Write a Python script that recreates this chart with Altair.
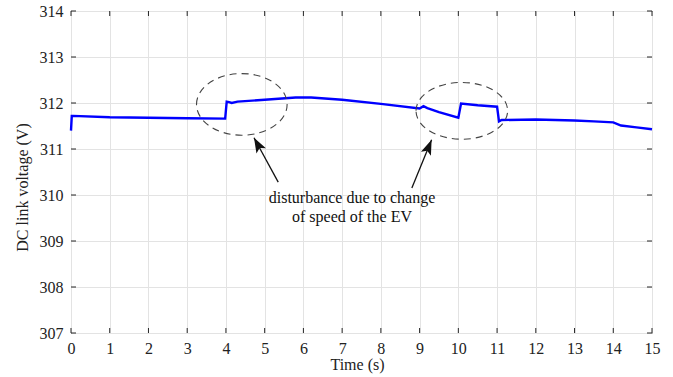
import math
import altair as alt
import pandas as pd

# DC link voltage trace (time in s, voltage in V)
time_s = [0.0, 0.02, 0.05, 1.0, 2.0, 3.0, 3.98, 4.02, 4.08, 4.15, 4.3, 5.0, 5.8,
          6.2, 7.0, 8.0, 9.0, 9.1, 9.2, 9.5, 10.0, 10.07, 10.5, 11.0, 11.05,
          11.12, 12.0, 12.5, 13.0, 13.5, 14.0, 14.2, 14.6, 15.0]
voltage = [311.40, 311.72, 311.72, 311.69, 311.68, 311.67, 311.66, 312.03,
           312.02, 312.00, 312.03, 312.07, 312.12, 312.12, 312.07, 311.98,
           311.88, 311.93, 311.89, 311.80, 311.68, 311.99, 311.95, 311.92,
           311.60, 311.63, 311.64, 311.63, 311.62, 311.60, 311.58, 311.51,
           311.47, 311.43]

x_ticks = list(range(0, 16))
y_ticks = list(range(307, 315))

# dashed ellipses around the two disturbances: centre (t, V), half-width in px, aspect
ell_t = [4.41, 10.09]
ell_v = [311.97, 311.83]
ell_rx = [45.3, 45.8]
ell_ratio = [0.68, 0.62]

# arrows from the note to the ellipses
arr_tail_t = [5.35, 8.80]
arr_tail_v = [310.28, 310.15]
arr_tip_t = [4.725, 9.31]
arr_tip_v = [311.245, 311.20]

note_lines = ["disturbance due to change", "of speed of the EV"]
note_t = [7.255, 7.255]
note_v = [309.83, 309.42]

W, H = 581, 322
X_DOM = [0, 15]
Y_DOM = [307, 314]
FONT = "Liberation Serif"

xs = alt.Scale(domain=X_DOM, nice=False, zero=False)
ys = alt.Scale(domain=Y_DOM, nice=False, zero=False)

# one shared axis definition per direction, reused by every layer
x_axis = alt.Axis(
    values=x_ticks, title="Time (s)", grid=True, gridColor="#e3e3e3",
    domain=False, ticks=False, tickSize=0, labelPadding=7,
    labelOverlap=False, labelFlush=False,
    labelFont=FONT, labelFontSize=16, labelColor="#222",
    titleFont=FONT, titleFontSize=16, titleFontWeight="normal", titleColor="#222",
    titleX=286, titleY=36, titleBaseline="alphabetic", titleAnchor="start",
    titleAlign="center")
y_axis = alt.Axis(
    values=y_ticks, title="DC link voltage (V)", grid=True, gridColor="#e3e3e3",
    domain=False, ticks=False, tickSize=0, labelPadding=8,
    labelOverlap=False, labelFlush=False,
    labelFont=FONT, labelFontSize=16, labelColor="#222",
    titleFont=FONT, titleFontSize=16, titleFontWeight="normal", titleColor="#222",
    titleX=-49, titleY=176, titleBaseline="middle", titleAngle=270,
    titleAlign="center")


def qx(field="t"):
    return alt.X(f"{field}:Q", scale=xs, axis=x_axis)


def qy(field="v"):
    return alt.Y(f"{field}:Q", scale=ys, axis=y_axis)


trace = pd.DataFrame({"t": time_s, "v": voltage})
line = alt.Chart(trace).mark_line(color="#0000ff", strokeWidth=2.4).encode(
    x=qx(), y=qy())

# inward ticks on all four sides
xt = pd.DataFrame({"t": x_ticks})
yt = pd.DataFrame({"v": y_ticks})
tick_col = "#262626"
bottom_ticks = alt.Chart(xt).mark_rule(color=tick_col).encode(
    x=qx(), y=alt.value(H), y2=alt.value(H - 5))
top_ticks = alt.Chart(xt).mark_rule(color=tick_col).encode(
    x=qx(), y=alt.value(0), y2=alt.value(5))
left_ticks = alt.Chart(yt).mark_rule(color=tick_col).encode(
    y=qy(), x=alt.value(0), x2=alt.value(5))
right_ticks = alt.Chart(yt).mark_rule(color=tick_col).encode(
    y=qy(), x=alt.value(W), x2=alt.value(W - 5))

layers = [line, bottom_ticks, top_ticks, left_ticks, right_ticks]

for ct, cv, rx, ratio in zip(ell_t, ell_v, ell_rx, ell_ratio):
    shape = f"M -1 0 A 1 {ratio} 0 1 1 1 0 A 1 {ratio} 0 1 1 -1 0 Z"
    layers.append(
        alt.Chart(pd.DataFrame({"t": [ct], "v": [cv]})).mark_point(
            shape=shape, size=(2 * rx) ** 2, filled=False, color="#444",
            strokeWidth=1.1, strokeDash=[7, 5], opacity=1).encode(
            x=qx(), y=qy()))

arrows = pd.DataFrame({"t": arr_tail_t, "v": arr_tail_v,
                       "t2": arr_tip_t, "v2": arr_tip_v})
layers.append(alt.Chart(arrows).mark_rule(color="#111", strokeWidth=1.3).encode(
    x=qx(), y=qy(), x2="t2:Q", y2="v2:Q"))

px_t = W / (X_DOM[1] - X_DOM[0])
px_v = H / (Y_DOM[1] - Y_DOM[0])
head = "M 0 0 L 0.36 1 L 0 0.78 L -0.36 1 Z"
for a, b, c, d in zip(arr_tail_t, arr_tail_v, arr_tip_t, arr_tip_v):
    dx = (c - a) * px_t
    dy = -(d - b) * px_v
    ang = math.degrees(math.atan2(dx, -dy)) % 360
    layers.append(
        alt.Chart(pd.DataFrame({"t": [c], "v": [d]})).mark_point(
            shape=head, size=900, filled=True, color="#111", opacity=1,
            angle=ang, strokeWidth=0).encode(x=qx(), y=qy()))

note = pd.DataFrame({"t": note_t, "v": note_v, "label": note_lines})
layers.append(alt.Chart(note).mark_text(
    font=FONT, fontSize=16, color="#111", align="center",
    baseline="alphabetic").encode(x=qx(), y=qy(), text="label:N"))

chart = alt.layer(*layers).properties(
    width=W, height=H,
    autosize=alt.AutoSizeParams(type="none"),
    padding={"left": 71, "top": 11, "right": 21, "bottom": 44},
    background="white",
).configure_view(
    stroke="#262626", strokeWidth=1
).configure_axis(
    labelFont=FONT, titleFont=FONT, labelFontSize=16, titleFontSize=16
).configure_text(font=FONT)

chart.save("out.html", embed_options={"renderer": "svg", "actions": False})
